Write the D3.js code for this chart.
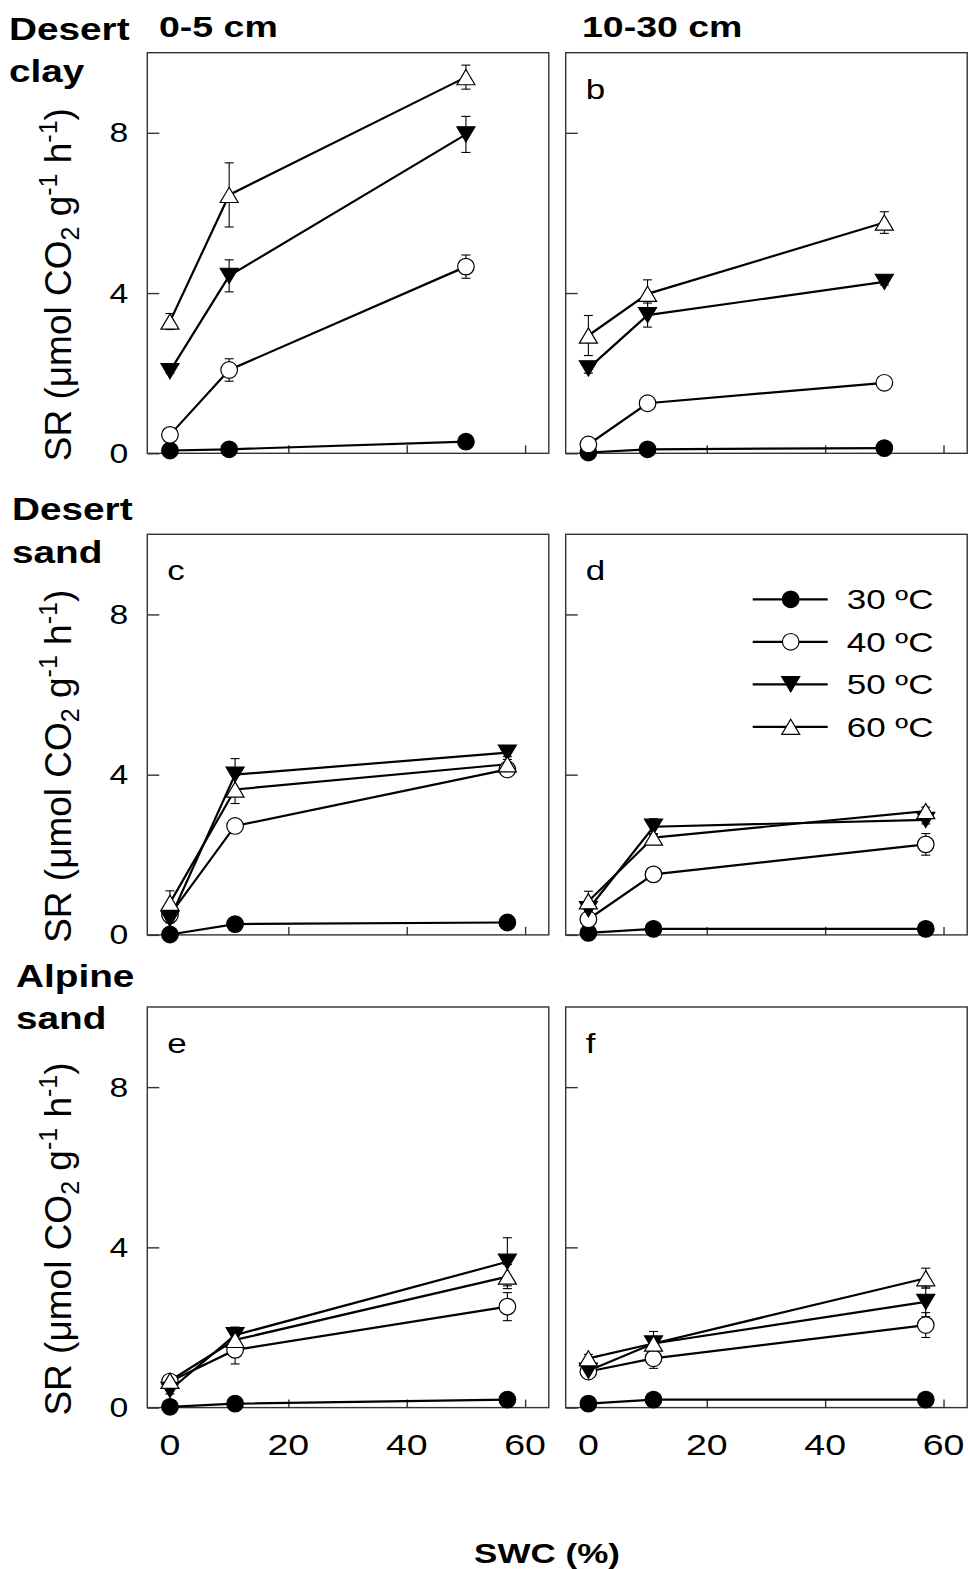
<!DOCTYPE html>
<html>
<head>
<meta charset="utf-8">
<script src="https://cdn.jsdelivr.net/npm/d3@7"></script>
<style>
  html, body { margin: 0; padding: 0; background: #fff; }
  svg { display: block; }
  text { font-family: "Liberation Sans", Arial, sans-serif; fill: #000; }
</style>
</head>
<body>
<script>
// Soil respiration (SR) vs soil water content (SWC) at four incubation temperatures

// SWC levels (%)
const swcClay = [0, 10, 50];
const swcSand = [0, 11, 57];

// series names (incubation temperature)
const temps = ["30 ºC", "40 ºC", "50 ºC", "60 ºC"];

// tick values
const xTicks = [0, 20, 40, 60];
const yTicks = [0, 4, 8];

// Desert clay, 0-5 cm: mean SR and SE, one row per temperature
const srA = [[0.07, 0.10, 0.29], [0.46, 2.08, 4.66], [2.05, 4.43, 7.96], [3.29, 6.45, 9.39]];
const seA = [[0, 0, 0], [0.05, 0.28, 0.29], [0.05, 0.40, 0.45], [0.20, 0.80, 0.30]];
// Desert clay, 10-30 cm
const srB = [[0.02, 0.10, 0.13], [0.22, 1.25, 1.76], [2.12, 3.45, 4.28], [2.94, 3.98, 5.76]];
const seB = [[0, 0, 0], [0.05, 0.05, 0.05], [0.12, 0.30, 0.08], [0.50, 0.35, 0.27]];
// Desert sand, 0-5 cm
const srC = [[0.01, 0.27, 0.31], [0.50, 2.72, 4.13], [0.40, 4.00, 4.55], [0.80, 3.63, 4.26]];
const seC = [[0, 0, 0], [0.05, 0.10, 0.15], [0.10, 0.40, 0.10], [0.30, 0.35, 0.12]];
// Desert sand, 10-30 cm
const srD = [[0.05, 0.15, 0.15], [0.39, 1.51, 2.26], [0.64, 2.70, 2.87], [0.84, 2.43, 3.09]];
const seD = [[0, 0, 0], [0.05, 0.10, 0.27], [0.10, 0.20, 0.10], [0.25, 0.10, 0.10]];
// Alpine sand, 0-5 cm
const srE = [[0.02, 0.10, 0.20], [0.65, 1.44, 2.52], [0.44, 1.81, 3.64], [0.67, 1.69, 3.27]];
const seE = [[0, 0, 0], [0.05, 0.35, 0.35], [0.10, 0.20, 0.60], [0.10, 0.15, 0.30]];
// Alpine sand, 10-30 cm
const srF = [[0.10, 0.20, 0.20], [0.90, 1.23, 2.06], [0.92, 1.60, 2.64], [1.23, 1.60, 3.23]];
const seF = [[0, 0, 0], [0.05, 0.25, 0.31], [0.10, 0.15, 0.37], [0.10, 0.30, 0.25]];

const depthTitles = ["0-5 cm", "10-30 cm"];
const soilTitles = [["Desert", "clay"], ["Desert", "sand"], ["Alpine", "sand"]];
const panelLetters = ["", "b", "c", "d", "e", "f"];

// ---------- layout ----------
const W = 968, H = 1569;
const colX = [147.3, 565.7];
const rowY = [52.7, 534.3, 1007];
const pw = 401.5, ph = 400.6;
const STRETCH = 1.25; // horizontal widening applied to all upright text
const FONT = '"Liberation Sans", Arial, sans-serif';

const panels = [
  { row: 0, col: 0, swc: swcClay, sr: srA, se: seA },
  { row: 0, col: 1, swc: swcClay, sr: srB, se: seB },
  { row: 1, col: 0, swc: swcSand, sr: srC, se: seC },
  { row: 1, col: 1, swc: swcSand, sr: srD, se: seD },
  { row: 2, col: 0, swc: swcSand, sr: srE, se: seE },
  { row: 2, col: 1, swc: swcSand, sr: srF, se: seF }
];

const x = d3.scaleLinear().domain([-3.83, 64]).range([0, pw]);
const y = d3.scaleLinear().domain([0, 10]).range([ph, 0]);

const svg = d3.select("body").append("svg")
  .attr("width", W).attr("height", H)
  .attr("viewBox", `0 0 ${W} ${H}`);
svg.append("rect").attr("width", W).attr("height", H).attr("fill", "#fff");

// upright text, widened horizontally about its anchor point
function label(parent, tx, ty, str, size, opts = {}) {
  return parent.append("text")
    .attr("transform", `translate(${tx},${ty}) scale(${STRETCH},1)`)
    .attr("font-size", size)
    .attr("font-weight", opts.bold ? "bold" : null)
    .attr("text-anchor", opts.anchor || "start")
    .text(str);
}

// marker styles per temperature series
const markerStyle = [
  { shape: "circle", fill: "#000" },
  { shape: "circle", fill: "#fff" },
  { shape: "down", fill: "#000" },
  { shape: "up", fill: "#fff" }
];
const TRI_W = 9, TRI_H = 7.6, CIRC_R = 8.3;
function drawMarker(g, cx, cy, s) {
  if (s.shape === "circle") {
    g.append("circle").attr("cx", cx).attr("cy", cy).attr("r", CIRC_R)
      .attr("fill", s.fill).attr("stroke", "#000").attr("stroke-width", 1.2);
  } else {
    const p = d3.path();
    const d = s.shape === "up" ? 1 : -1;
    p.moveTo(cx, cy - d * TRI_H);
    p.lineTo(cx + TRI_W, cy + d * TRI_H);
    p.lineTo(cx - TRI_W, cy + d * TRI_H);
    p.closePath();
    g.append("path").attr("d", p.toString())
      .attr("fill", s.fill).attr("stroke", "#000").attr("stroke-width", 1.2)
      .attr("stroke-linejoin", "miter");
  }
}

const line = d3.line();

panels.forEach((P, idx) => {
  const g = svg.append("g")
    .attr("transform", `translate(${colX[P.col]},${rowY[P.row]})`);

  // frame
  g.append("rect").attr("width", pw).attr("height", ph)
    .attr("fill", "none").attr("stroke", "#333").attr("stroke-width", 1.4);

  // inward ticks
  const yAx = g.append("g")
    .call(d3.axisLeft(y).tickValues(yTicks).tickSize(-12).tickFormat(""));
  const xAx = g.append("g").attr("transform", `translate(0,${ph})`)
    .call(d3.axisBottom(x).tickValues(xTicks).tickSize(-8).tickFormat(""));
  [yAx, xAx].forEach(a => {
    a.select(".domain").remove();
    a.selectAll("line").attr("stroke", "#333").attr("stroke-width", 1.4);
  });

  // tick labels
  if (P.col === 0) {
    yTicks.forEach(v => label(g, -19, y(v) + 9.5, String(v), 27, { anchor: "end" }));
  }
  if (P.row === 2) {
    xTicks.forEach(v => label(g, x(v), ph + 47.5, String(v), 30, { anchor: "middle" }));
  }

  // connecting lines
  P.sr.forEach(series => {
    g.append("path")
      .attr("d", line(series.map((v, i) => [x(P.swc[i]), y(v)])))
      .attr("fill", "none").attr("stroke", "#000").attr("stroke-width", 2.2);
  });

  // error bars (±SE) beneath the markers
  P.sr.forEach((series, k) => {
    series.forEach((v, i) => {
      const e = P.se[k][i];
      if (!e) return;
      const cx = x(P.swc[i]);
      const y1 = y(v + e), y2 = y(v - e);
      g.append("line").attr("x1", cx).attr("x2", cx).attr("y1", y1).attr("y2", y2)
        .attr("stroke", "#000").attr("stroke-width", 1.1);
      [y1, y2].forEach(yy => g.append("line")
        .attr("x1", cx - 4.5).attr("x2", cx + 4.5).attr("y1", yy).attr("y2", yy)
        .attr("stroke", "#000").attr("stroke-width", 1.1));
    });
  });

  // markers
  P.sr.forEach((series, k) => {
    series.forEach((v, i) => drawMarker(g, x(P.swc[i]), y(v), markerStyle[k]));
  });

  // panel letter
  if (panelLetters[idx]) label(g, 20, 46, panelLetters[idx], 28);

  // legend in the desert-sand 10-30 cm panel
  if (idx === 3) {
    temps.forEach((t, k) => {
      const ly = 65 + k * 42.5;
      g.append("line").attr("x1", 187).attr("x2", 262).attr("y1", ly).attr("y2", ly)
        .attr("stroke", "#000").attr("stroke-width", 2.2);
      drawMarker(g, 225, ly, markerStyle[k]);
      label(g, 281, ly + 10, t, 28);
    });
  }
});

// depth headings
depthTitles.forEach((t, c) => label(svg, c === 0 ? 159 : 582, 37, t, 30, { bold: true }));

// soil type headings
const soilPos = [[9, 40, 82], [12, 520, 563], [16, 987, 1029]];
soilTitles.forEach((lines, r) => {
  label(svg, soilPos[r][0], soilPos[r][1], lines[0], 31, { bold: true });
  label(svg, soilPos[r][0], soilPos[r][2], lines[1], 31, { bold: true });
});

// y-axis titles for each row
rowY.forEach(top => {
  const t = svg.append("text")
    .attr("transform", `translate(71,${top + 232}) rotate(-90)`)
    .attr("text-anchor", "middle")
    .attr("font-size", 37);
  t.append("tspan").text("SR (μmol CO");
  t.append("tspan").attr("dy", 8).attr("font-size", 25).text("2");
  t.append("tspan").attr("dy", -8).text(" g");
  t.append("tspan").attr("dy", -14).attr("font-size", 25).text("-1");
  t.append("tspan").attr("dy", 14).text(" h");
  t.append("tspan").attr("dy", -14).attr("font-size", 25).text("-1");
  t.append("tspan").attr("dy", 14).text(")");
});

// shared x-axis title
label(svg, 547, 1563, "SWC (%)", 28, { bold: true, anchor: "middle" });
</script>
</body>
</html>
